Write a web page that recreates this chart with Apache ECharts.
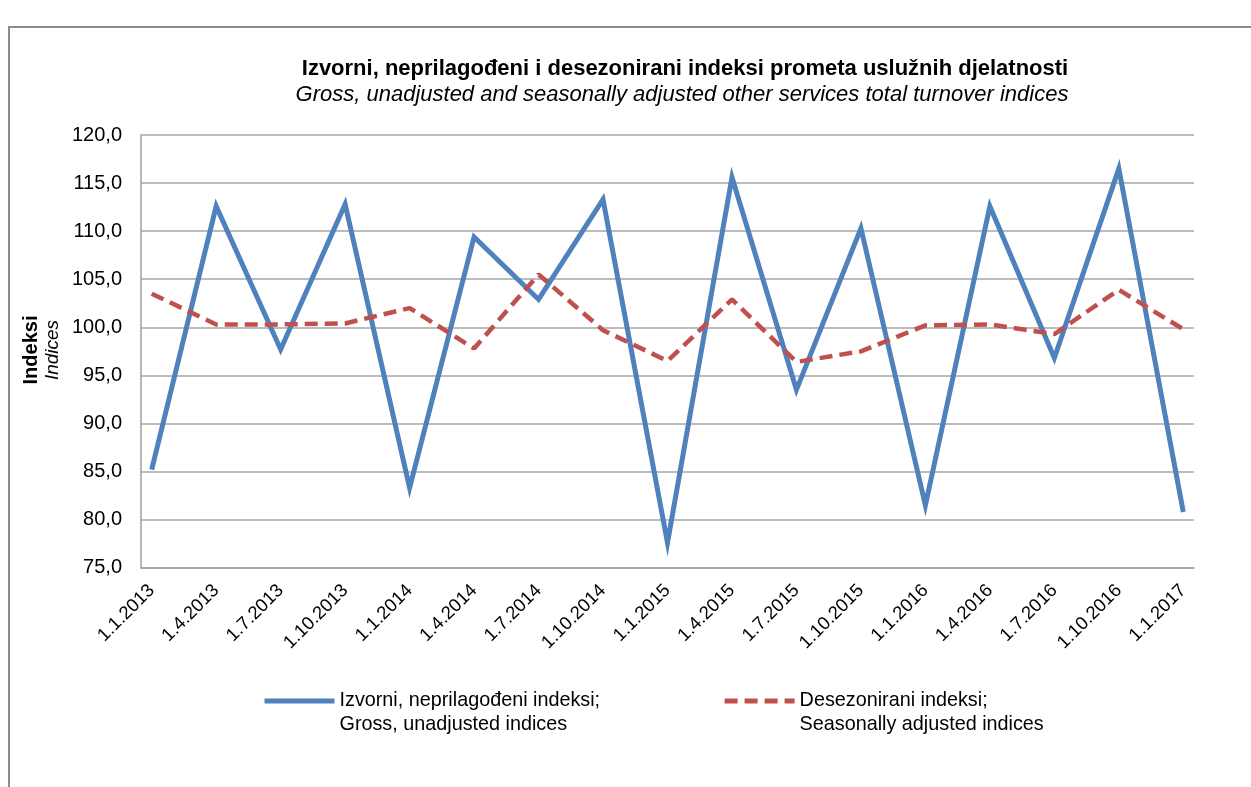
<!DOCTYPE html>
<html>
<head>
<meta charset="utf-8">
<script src="https://cdn.jsdelivr.net/npm/echarts@6/dist/echarts.min.js"></script>
<style>
html,body{margin:0;padding:0;background:#fff;}
#c{width:1251px;height:787px;}
</style>
</head>
<body>
<div id="c"></div>
<script>
const categories = ['1.1.2013','1.4.2013','1.7.2013','1.10.2013','1.1.2014','1.4.2014','1.7.2014','1.10.2014','1.1.2015','1.4.2015','1.7.2015','1.10.2015','1.1.2016','1.4.2016','1.7.2016','1.10.2016','1.1.2017'];
const grossValues = [85.2,112.6,97.7,112.8,83.3,109.4,102.9,113.3,77.6,115.6,93.5,110.3,81.5,112.6,96.8,116.5,80.8];
const adjustedValues = [103.5,100.3,100.3,100.4,102.0,97.8,105.5,99.7,96.5,102.9,96.4,97.5,100.2,100.3,99.3,103.9,99.8];
const grossName = 'Izvorni, neprilagođeni indeksi;';
const grossNameEn = 'Gross, unadjusted indices';
const adjName = 'Desezonirani indeksi;';
const adjNameEn = 'Seasonally adjusted indices';
const titleHr = 'Izvorni, neprilagođeni i desezonirani indeksi prometa uslužnih djelatnosti';
const titleEn = 'Gross, unadjusted and seasonally adjusted other services total turnover indices';

const FONT = 'Liberation Sans, Arial, sans-serif';
const chart = echarts.init(document.getElementById('c'), null, {renderer:'canvas'});
const idx = categories.map((c,i)=>i);
const legendSecond = {};
legendSecond[grossName] = grossNameEn;
legendSecond[adjName] = adjNameEn;
const BLUE = '#4F81BD', RED = '#C0504D';
const DASH = [13,7];

chart.setOption({
  animation:false,
  backgroundColor:'#fff',
  title:[
    {text:titleHr, left:680, top:53, textAlign:'center',
     textStyle:{fontFamily:FONT,fontSize:22,fontWeight:'bold',color:'#000'}},
    {text:titleEn, left:677, top:79, textAlign:'center',
     textStyle:{fontFamily:FONT,fontSize:22,fontStyle:'italic',fontWeight:'normal',color:'#000'}}
  ],
  graphic:[
    {type:'rect', shape:{x:9,y:27,width:1300,height:800}, style:{fill:'none',stroke:'#8c8c8c',lineWidth:2}, silent:true},
    {type:'text', x:31, y:350, rotation:Math.PI/2,
     style:{text:'Indeksi', fontFamily:FONT, fontSize:20, fontWeight:'bold', fill:'#000', align:'center', verticalAlign:'middle'}},
    {type:'text', x:53, y:350, rotation:Math.PI/2,
     style:{text:'Indices', fontFamily:FONT, fontSize:19, fontStyle:'italic', fill:'#000', align:'center', verticalAlign:'middle'}}
  ],
  legend:{
    left:262, top:665, padding:0, itemWidth:70, itemHeight:14, itemGap:122,
    formatter:function(n){return ' \n'+n+'\n'+legendSecond[n];},
    textStyle:{fontFamily:FONT,fontSize:19.8,color:'#000',lineHeight:24},
    itemStyle:{opacity:0},
    data:[
      {name:grossName, lineStyle:{width:5,color:BLUE,type:'solid'}},
      {name:adjName, lineStyle:{width:5,color:RED,type:DASH}}
    ]
  },
  grid:{left:141, right:57, top:135, bottom:219.3, containLabel:false},
  xAxis:{
    type:'value', min:-0.166, max:16.166,
    splitLine:{show:false},
    axisTick:{show:false},
    axisLine:{show:true,onZero:false,lineStyle:{color:'#a0a0a0',width:1.5}},
    axisLabel:{
      customValues:idx,
      rotate:45, margin:20,
      fontFamily:FONT, fontSize:18.5, color:'#000',
      formatter:function(v){return categories[Math.round(v)];}
    }
  },
  yAxis:{
    type:'value', min:75, max:120, interval:5,
    axisLine:{show:true,onZero:false,lineStyle:{color:'#a0a0a0',width:1.5}},
    axisTick:{show:false},
    splitLine:{show:true,lineStyle:{color:'#a6a6a6',width:1.5}},
    axisLabel:{margin:19,fontFamily:FONT,fontSize:20,color:'#000',
      formatter:function(v){return v.toFixed(1).replace('.',',');}}
  },
  series:[
    {name:grossName, type:'line', symbol:'none',
     data:grossValues.map((v,i)=>[i,v]),
     lineStyle:{color:BLUE,width:5,join:'miter'},
     itemStyle:{color:BLUE}},
    {name:adjName, type:'line', symbol:'none',
     data:adjustedValues.map((v,i)=>[i,v]),
     lineStyle:{color:RED,width:4.5,type:DASH},
     itemStyle:{color:RED}}
  ]
});
</script>
</body>
</html>
